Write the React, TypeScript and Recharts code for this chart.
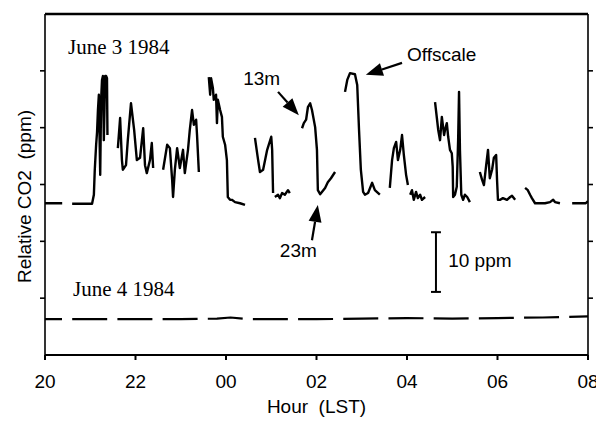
import React from "react";
import { LineChart, Line, XAxis, YAxis, ReferenceLine, ReferenceDot, Label } from "recharts";

// hours since 20 LST of June 3 (24 = 00, 32 = 08); null co2 = break in the record
const june3Hours = [
  20.0, 20.38, 20.49,
  20.6, 21.04, 21.08, 21.1, 21.13, 21.15, 21.17, 21.19, 21.22, 21.24, 21.26, 21.28, 21.3, 21.33, 21.35, 21.37, 21.38, 21.5,
  21.61, 21.66, 21.7, 21.72, 21.79, 21.83, 21.9, 21.97, 22.03, 22.1, 22.17, 22.21, 22.25, 22.32, 22.36, 22.39, 22.5,
  22.61, 22.7, 22.76, 22.81, 22.83, 22.87, 22.92, 22.98, 23.05, 23.09, 23.16, 23.2, 23.25, 23.29, 23.34, 23.36, 23.4, 23.51,
  23.62, 23.65, 23.67, 23.71, 23.73, 23.78, 23.8, 23.82, 23.87, 23.91, 23.93, 23.98, 24.02, 24.04, 24.09, 24.13, 24.2, 24.31, 24.42, 24.53,
  24.64, 24.71, 24.75, 24.82, 24.91, 25.0, 25.02, 25.04, 25.06,
  25.08, 25.15, 25.19, 25.24, 25.3, 25.37, 25.41, 25.55,
  25.68, 25.72, 25.77, 25.81, 25.86, 25.9, 25.97, 26.01, 26.03, 26.08, 26.12, 26.19, 26.25, 26.32, 26.41, 26.52,
  26.63, 26.68, 26.74, 26.85, 26.9, 26.94, 26.98, 27.03, 27.07, 27.14, 27.23, 27.29, 27.4, 27.51,
  27.62, 27.67, 27.71, 27.76, 27.8, 27.85, 27.89, 27.93, 27.98, 28.02, 28.04,
  28.07, 28.11, 28.15, 28.2, 28.24, 28.29, 28.33, 28.4, 28.51,
  28.62, 28.66, 28.69, 28.73, 28.77, 28.82, 28.84, 28.88, 28.91, 28.95, 28.99,
  29.01, 29.02, 29.06, 29.1, 29.13, 29.15, 29.17, 29.2, 29.24, 29.28, 29.33, 29.39, 29.5,
  29.61, 29.66, 29.7, 29.75, 29.79, 29.83, 29.88, 29.92, 29.97, 29.99, 30.01, 30.06, 30.12, 30.21, 30.28, 30.32, 30.39, 30.5,
  30.61, 30.67, 30.72, 30.76, 30.83, 30.94, 31.05, 31.16, 31.23, 31.27, 31.38, 31.5,
  31.65, 31.82, 31.95, 32.0,
];
const june3Co2 = [
  26.7, 26.7, null,
  26.6, 26.6, 28.2, 32.6, 37.0, 39.2, 43.1, 45.8, 31.7, 44.9, 48.4, 49.1, 37.8, 49.1, 49.1, 48.7, 38.7, null,
  36.4, 41.7, 34.3, 32.6, 33.4, 37.8, 44.3, 39.6, 34.3, 34.7, 39.9, 33.4, 32.0, 34.3, 37.3, 32.9, null,
  32.6, 37.0, 36.4, 30.8, 27.8, 32.6, 36.4, 32.9, 36.1, 32.0, 36.1, 39.6, 43.1, 40.5, 41.4, 38.7, 32.2, null,
  48.9, 45.8, 48.7, 47.0, 44.9, 45.8, 40.8, 44.9, 43.1, 41.9, 38.4, 37.0, 34.3, 27.8, 27.3, 27.3, 26.9, 26.7, 26.4, null,
  38.2, 34.3, 32.2, 32.6, 36.1, 38.4, 36.1, 28.5, null,
  27.8, 28.2, 27.6, 28.5, 28.2, 29.0, 28.5, null,
  39.9, 40.8, 41.4, 43.6, 44.3, 43.1, 40.1, 36.1, 29.0, 28.3, 28.7, 29.4, 30.4, 31.1, 32.2, null,
  46.3, 48.4, 49.6, 49.4, 47.5, 39.6, 32.6, 28.7, 28.2, 28.5, 30.3, 29.0, 28.2, null,
  29.4, 34.3, 36.4, 37.5, 34.3, 36.1, 38.7, 35.2, 31.7, 29.9, null,
  28.2, 29.0, 27.3, 28.7, 27.6, 28.2, 27.3, 27.8, null,
  44.5, 41.7, 39.6, 37.8, 41.9, 38.7, 39.6, 40.8, 38.4, 36.1, 35.5,
  33.1, 27.8, 28.2, 29.6, 37.8, 46.3, 36.1, 28.2, 27.3, 28.2, 27.8, 26.9, null,
  32.2, 30.8, 29.9, 33.4, 36.1, 31.1, 32.6, 34.7, 35.2, 30.8, 27.3, 27.3, 27.6, 27.3, 27.8, 28.0, 27.3, null,
  29.4, 29.0, 28.2, 27.6, 26.7, 26.7, 26.7, 26.9, 27.3, 26.9, 26.7, null,
  26.7, 26.7, 26.7, 27.1,
];

const june4Hours = [20, 21, 22, 23, 23.8, 24.1, 24.5, 25, 26, 27, 28, 29, 30, 31, 32];
const june4Co2 = [6.3, 6.3, 6.3, 6.3, 6.4, 6.6, 6.3, 6.3, 6.3, 6.4, 6.5, 6.4, 6.5, 6.6, 6.8];

const hourTicks = [20, 22, 24, 26, 28, 30, 32];
const co2Ticks = [10, 20, 30, 40, 50];
const X_MIN = 20;
const X_MAX = 32;
const Y_MIN = 0;
const Y_MAX = 60;

// annotations, in data units (hour, co2)
const arrows = [
  { from: [25.15, 46.3], to: [25.61, 42.2] }, // 13m
  { from: [27.89, 51.4], to: [27.09, 49.3] }, // Offscale
  { from: [25.9, 20.2], to: [26.03, 26.4] }, // 23m
];
const notes = [
  { text: "June 3 1984", hour: 20.51, co2: 53.0, serif: true },
  { text: "June 4 1984", hour: 20.62, co2: 10.4, serif: true },
  { text: "13m", hour: 24.38, co2: 47.5, serif: false },
  { text: "Offscale", hour: 28.0, co2: 51.7, serif: false },
  { text: "23m", hour: 25.19, co2: 17.2, serif: false },
  { text: "10 ppm", hour: 28.91, co2: 15.5, serif: false },
];
const scaleBar = { hour: 28.64, low: 11.1, high: 21.6, cap: 0.11 };
const rightTickLen = 0.11; // in hours, about 5px

const june3 = june3Hours.map((h, i) => ({ hour: h, co2: june3Co2[i] }));
const june4 = june4Hours.map((h, i) => ({ hour: h, co2: june4Co2[i] }));

const SANS = "'Liberation Sans', Arial, sans-serif";
const SERIF = "'Liberation Serif', 'Times New Roman', serif";

const fmtHour = (h: number) => String(h % 24).padStart(2, "0");

function ArrowShape(props: any) {
  const { x1, y1, x2, y2 } = props;
  const dx = x2 - x1;
  const dy = y2 - y1;
  const len = Math.hypot(dx, dy) || 1;
  const ux = dx / len;
  const uy = dy / len;
  const hl = 17;
  const hw = 6.5;
  const bx = x2 - ux * hl;
  const by = y2 - uy * hl;
  return (
    <g>
      <line x1={x1} y1={y1} x2={bx} y2={by} stroke="#000" strokeWidth={2.2} />
      <polygon
        points={`${x2},${y2} ${bx - uy * hw},${by + ux * hw} ${bx + uy * hw},${by - ux * hw}`}
        fill="#000"
      />
    </g>
  );
}

export default function App() {
  return (
    <div style={{ position: "absolute", left: 0, top: 0, width: 596, height: 422, background: "#fff" }}>
      <LineChart width={596} height={422} data={june3} margin={{ top: 14, right: 8, bottom: 0, left: 0 }}>
        <XAxis
          dataKey="hour"
          type="number"
          domain={[X_MIN, X_MAX]}
          ticks={hourTicks}
          interval={0}
          tickFormatter={fmtHour}
          height={67}
          tickSize={5}
          tickMargin={15}
          stroke="#000"
          strokeWidth={2}
          tick={{ fill: "#000", fontSize: 19, fontFamily: SANS }}
          allowDataOverflow
        >
          <Label
            content={(p: any) => {
              const vb = p.viewBox || { x: 45, y: 355, width: 543 };
              return (
                <text x={vb.x + vb.width / 2} y={vb.y + 58} textAnchor="middle" fontSize={19} fontFamily={SANS} fill="#000" style={{ whiteSpace: "pre" }}>
                  {"Hour  (LST)"}
                </text>
              );
            }}
          />
        </XAxis>
        <YAxis
          type="number"
          domain={[Y_MIN, Y_MAX]}
          ticks={co2Ticks}
          interval={0}
          width={45}
          tickSize={5}
          tickFormatter={() => ""}
          stroke="#000"
          strokeWidth={1.6}
        >
          <Label
            content={(p: any) => {
              const vb = p.viewBox || { x: 0, y: 14, width: 45, height: 341 };
              const cy = vb.y + vb.height / 2 + 12;
              return (
                <text x={31} y={cy} transform={`rotate(-90, 31, ${cy})`} textAnchor="middle" fontSize={19} fontFamily={SANS} fill="#000" style={{ whiteSpace: "pre" }}>
                  {"Relative CO2  (ppm)"}
                </text>
              );
            }}
          />
        </YAxis>

        <Line
          dataKey="co2"
          type="linear"
          stroke="#000"
          strokeWidth={2.4}
          strokeLinejoin="round"
          dot={false}
          activeDot={false}
          connectNulls={false}
          isAnimationActive={false}
        />
        <Line
          data={june4}
          dataKey="co2"
          type="linear"
          stroke="#000"
          strokeWidth={2.2}
          strokeDasharray="35 10.2"
          strokeDashoffset={18}
          dot={false}
          activeDot={false}
          isAnimationActive={false}
        />

        {/* frame: top and right sides with right-hand ticks */}
        <ReferenceLine
          segment={[
            { x: X_MIN, y: Y_MAX },
            { x: X_MAX, y: Y_MAX },
          ]}
          stroke="#000"
          strokeWidth={2.4}
          ifOverflow="visible"
        />
        <ReferenceLine
          segment={[
            { x: X_MAX, y: Y_MIN },
            { x: X_MAX, y: Y_MAX },
          ]}
          stroke="#000"
          strokeWidth={1.6}
          ifOverflow="visible"
        />
        {co2Ticks.map((t) => (
          <ReferenceLine
            key={`rt-${t}`}
            segment={[
              { x: X_MAX, y: t },
              { x: X_MAX + rightTickLen, y: t },
            ]}
            stroke="#000"
            strokeWidth={1.6}
            ifOverflow="visible"
          />
        ))}

        {arrows.map((a, i) => (
          <ReferenceLine
            key={`arrow-${i}`}
            segment={[
              { x: a.from[0], y: a.from[1] },
              { x: a.to[0], y: a.to[1] },
            ]}
            ifOverflow="visible"
            shape={ArrowShape}
          />
        ))}

        {/* 10 ppm scale bar */}
        <ReferenceLine
          segment={[
            { x: scaleBar.hour, y: scaleBar.low },
            { x: scaleBar.hour, y: scaleBar.high },
          ]}
          stroke="#000"
          strokeWidth={2}
          ifOverflow="visible"
        />
        <ReferenceLine
          segment={[
            { x: scaleBar.hour - scaleBar.cap, y: scaleBar.low },
            { x: scaleBar.hour + scaleBar.cap, y: scaleBar.low },
          ]}
          stroke="#000"
          strokeWidth={2}
          ifOverflow="visible"
        />
        <ReferenceLine
          segment={[
            { x: scaleBar.hour - scaleBar.cap, y: scaleBar.high },
            { x: scaleBar.hour + scaleBar.cap, y: scaleBar.high },
          ]}
          stroke="#000"
          strokeWidth={2}
          ifOverflow="visible"
        />

        {notes.map((n, i) => (
          <ReferenceDot
            key={`note-${i}`}
            x={n.hour}
            y={n.co2}
            r={0}
            ifOverflow="visible"
            shape={(p: any) => (
              <text
                x={p.cx}
                y={p.cy}
                textAnchor="start"
                fontSize={n.serif ? 21 : 19}
                fontFamily={n.serif ? SERIF : SANS}
                fill="#000"
              >
                {n.text}
              </text>
            )}
          />
        ))}
      </LineChart>
    </div>
  );
}
